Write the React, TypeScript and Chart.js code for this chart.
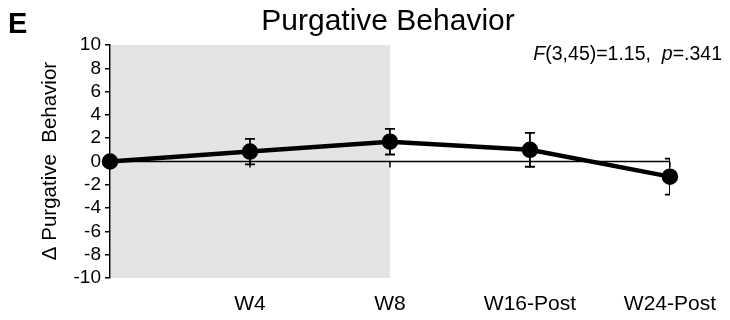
import React, { useEffect, useRef } from "react";
import { Chart, registerables } from "chart.js";

Chart.register(...registerables);

const categories = ["", "W4", "W8", "W16-Post", "W24-Post"];
const means = [0, 0.85, 1.7, 1.0, -1.3];
const errors = [0, 1.1, 1.1, 1.45, 1.55];
const yMin = -10;
const yMax = 10;
const yStep = 2;
const shadeFrom = 0;
const shadeTo = 2;
const titleText = "Purgative Behavior";
const panelLetter = "E";
const yTitle = "\u0394 Purgative  Behavior";

const FONT = "'Liberation Sans', Arial, sans-serif";

const decorPlugin = {
  id: "decor",
  beforeDatasetsDraw(chart: any) {
    const { ctx, chartArea } = chart;
    const x = chart.scales.x;
    const y = chart.scales.y;
    ctx.save();
    // shaded region
    ctx.fillStyle = "#e4e4e4";
    const x0 = x.getPixelForValue(shadeFrom);
    const x1 = x.getPixelForValue(shadeTo);
    ctx.fillRect(x0 + 1, chartArea.top, x1 - x0 - 1, chartArea.bottom - chartArea.top);
    // zero line
    const y0 = y.getPixelForValue(0);
    ctx.strokeStyle = "#000";
    ctx.lineWidth = 1.5;
    ctx.beginPath();
    ctx.moveTo(chartArea.left, y0);
    ctx.lineTo(chartArea.right, y0);
    for (let i = 1; i < categories.length; i++) {
      const px = x.getPixelForValue(i);
      ctx.moveTo(px, y0);
      ctx.lineTo(px, y0 + 6);
    }
    ctx.stroke();
    // error bars (clipped to chart area)
    ctx.beginPath();
    ctx.rect(chartArea.left, chartArea.top - 10, chartArea.right - chartArea.left, chartArea.bottom - chartArea.top + 20);
    ctx.clip();
    ctx.lineWidth = 1.8;
    ctx.beginPath();
    for (let i = 0; i < means.length; i++) {
      if (!errors[i]) continue;
      const px = x.getPixelForValue(i);
      const yt = y.getPixelForValue(means[i] + errors[i]);
      const yb = y.getPixelForValue(means[i] - errors[i]);
      ctx.moveTo(px, yt);
      ctx.lineTo(px, yb);
      ctx.moveTo(px - 5, yt);
      ctx.lineTo(px + 5, yt);
      ctx.moveTo(px - 5, yb);
      ctx.lineTo(px + 5, yb);
    }
    ctx.stroke();
    ctx.restore();
  },
  afterDraw(chart: any) {
    const { ctx } = chart;
    ctx.save();
    ctx.fillStyle = "#000";
    // panel letter
    ctx.font = `bold 29px ${FONT}`;
    ctx.textAlign = "left";
    ctx.textBaseline = "alphabetic";
    ctx.fillText(panelLetter, 8, 33);
    // title
    ctx.font = `30px ${FONT}`;
    ctx.textAlign = "center";
    ctx.fillText(titleText, 388, 30);
    // y title
    ctx.save();
    ctx.translate(56, 161);
    ctx.rotate(-Math.PI / 2);
    ctx.font = `20.5px ${FONT}`;
    ctx.textAlign = "center";
    ctx.textBaseline = "alphabetic";
    ctx.fillText(yTitle, 0, 0);
    ctx.restore();
    // stats annotation
    const parts: [string, boolean][] = [
      ["F", true],
      ["(3,45)=1.15,  ", false],
      ["p", true],
      ["=.341", false],
    ];
    const size = 19.5;
    let total = 0;
    for (const [t, it] of parts) {
      ctx.font = `${it ? "italic " : ""}${size}px ${FONT}`;
      total += ctx.measureText(t).width;
    }
    let cx = 722 - total;
    ctx.textAlign = "left";
    for (const [t, it] of parts) {
      ctx.font = `${it ? "italic " : ""}${size}px ${FONT}`;
      ctx.fillText(t, cx, 60);
      cx += ctx.measureText(t).width;
    }
    ctx.restore();
  },
};

export default function App() {
  const ref = useRef<HTMLCanvasElement>(null);
  useEffect(() => {
    document.body.style.margin = "0";
    const chart = new Chart(ref.current as HTMLCanvasElement, {
      type: "line",
      data: {
        datasets: [
          {
            data: means.map((m, i) => ({ x: i, y: m })),
            borderColor: "#000",
            backgroundColor: "#000",
            borderWidth: 4.5,
            pointRadius: 6,
            pointBackgroundColor: "#000",
            pointBorderColor: "#000",
            tension: 0,
            clip: false as any,
          },
        ],
      },
      options: {
        animation: false,
        responsive: false,
        maintainAspectRatio: false,
        layout: { padding: { top: 45, right: 60, left: 0, bottom: 0 } },
        plugins: { legend: { display: false }, tooltip: { enabled: false }, title: { display: false } },
        scales: {
          x: {
            type: "linear",
            min: 0,
            max: categories.length - 1,
            grid: { display: false, drawTicks: false },
            border: { display: false },
            ticks: {
              stepSize: 1,
              autoSkip: false,
              maxRotation: 0,
              padding: 14,
              color: "#000",
              font: { family: FONT, size: 21 },
              callback: (v: any) => categories[v as number] ?? "",
            },
            afterFit: (s: any) => {
              s.height = 42;
            },
          },
          y: {
            min: yMin,
            max: yMax,
            grid: { drawOnChartArea: false, drawTicks: true, tickLength: 5, color: "#000", lineWidth: 1.5 },
            border: { display: true, color: "#000", width: 1.5 },
            ticks: {
              stepSize: yStep,
              autoSkip: false,
              padding: 4,
              color: "#000",
              font: { family: FONT, size: 19 },
            },
            afterFit: (s: any) => {
              s.width = 110;
            },
          },
        },
      },
      plugins: [decorPlugin],
    });
    return () => chart.destroy();
  }, []);
  return (
    <div style={{ width: 730, height: 320 }}>
      <canvas ref={ref} width={730} height={320} style={{ width: 730, height: 320, display: "block" }} />
    </div>
  );
}
